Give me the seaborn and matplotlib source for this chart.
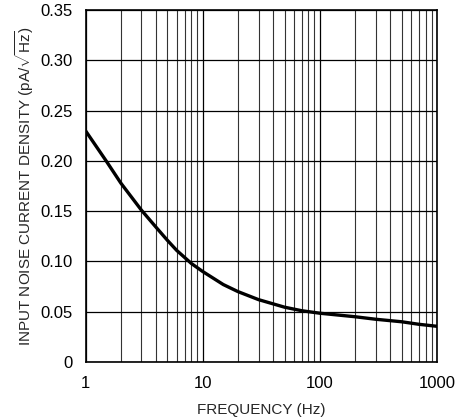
import matplotlib
matplotlib.use("Agg")
import matplotlib.pyplot as plt
import seaborn as sns
import pandas as pd
from matplotlib.ticker import FixedLocator, LogLocator, NullFormatter

# curva
freq_hz = [1, 1.5, 2, 3, 4, 5, 6, 8, 10, 15, 20, 30, 50, 70, 100, 200, 300, 500, 700, 1000]
noise_pa = [0.230, 0.200, 0.178, 0.151, 0.134, 0.121, 0.111, 0.098, 0.090, 0.077,
            0.070, 0.062, 0.0545, 0.051, 0.0485, 0.045, 0.0425, 0.040, 0.0375, 0.0355]
y_ticks = [0, 0.05, 0.10, 0.15, 0.20, 0.25, 0.30, 0.35]
y_tick_labels = ["0", "0.05", "0.10", "0.15", "0.20", "0.25", "0.30", "0.35"]
x_ticks = [1, 10, 100, 1000]
x_tick_labels = ["1", "10", "100", "1000"]

df = pd.DataFrame({"freq": freq_hz, "noise": noise_pa})

sns.set_style("white")
plt.rcParams["font.family"] = ["Liberation Sans", "DejaVu Sans"]
plt.rcParams["mathtext.fontset"] = "custom"
plt.rcParams["mathtext.rm"] = "Liberation Sans"
plt.rcParams["mathtext.it"] = "Liberation Sans"

fig = plt.figure(figsize=(4.72, 4.19), dpi=100)
ax = fig.add_axes([85.5 / 472, 1 - 362 / 419, (437 - 85.5) / 472, (362 - 10) / 419])

sns.lineplot(data=df, x="freq", y="noise", ax=ax, color="black", linewidth=2.4)

ax.set_xscale("log")
ax.set_xlim(1, 1000)
ax.set_ylim(0, 0.35)
ax.xaxis.set_major_locator(FixedLocator(x_ticks))
ax.set_xticks(x_ticks, x_tick_labels)
ax.xaxis.set_minor_locator(LogLocator(base=10, subs=range(2, 10)))
ax.xaxis.set_minor_formatter(NullFormatter())
ax.set_yticks(y_ticks, y_tick_labels)

ax.grid(which="major", color="black", linewidth=0.9)
ax.grid(which="minor", axis="x", color="#333333", linewidth=0.8)
ax.tick_params(which="both", length=0, labelsize=12, colors="black")
ax.tick_params(axis="y", pad=9)
ax.tick_params(axis="x", pad=10)
for s in ax.spines.values():
    s.set_color("black")
    s.set_linewidth(1.2)

ax.set_xlabel("FREQUENCY (Hz)", fontsize=11, labelpad=9)
ax.set_ylabel(r"INPUT NOISE CURRENT DENSITY (pA/$\sqrt{\mathrm{Hz}}$)", fontsize=11, labelpad=3)

fig.savefig("out.png", dpi=100)
